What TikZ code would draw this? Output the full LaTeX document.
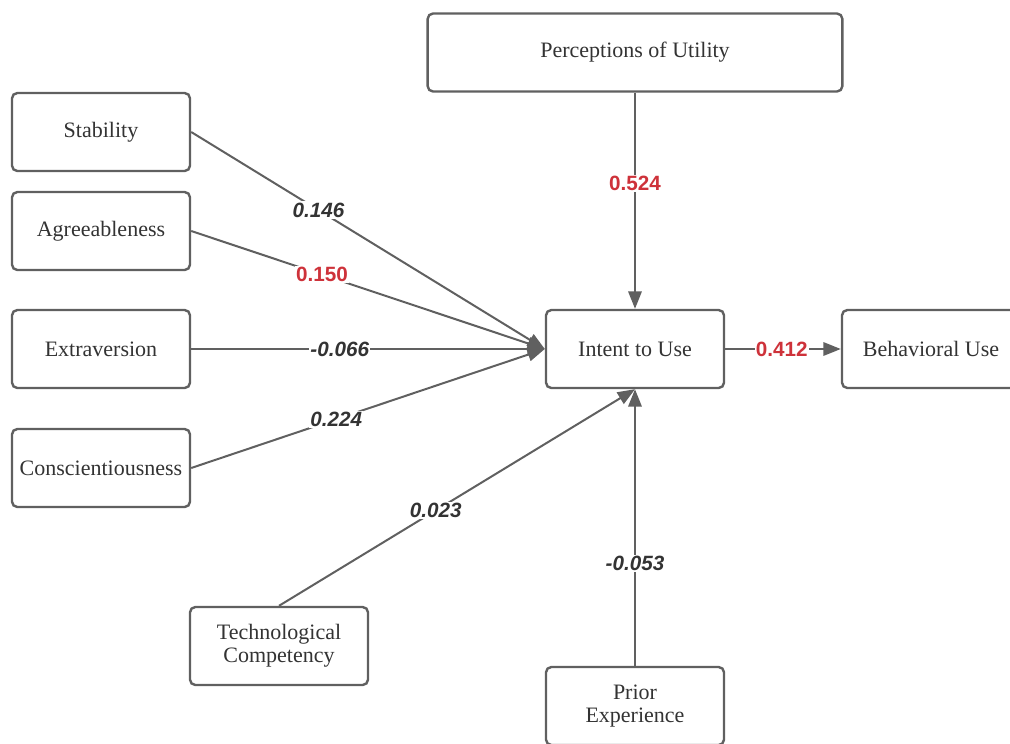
\documentclass[tikz,border=0pt]{standalone}
\usepackage{fontspec}
\setmainfont{Liberation Serif}
\newfontfamily\coeffont{Liberation Sans}
\usetikzlibrary{arrows.meta}
\definecolor{rahmen}{RGB}{96,96,96}
\definecolor{tinte}{RGB}{51,51,51}
\definecolor{signif}{RGB}{206,50,58}

\begin{document}
\begin{tikzpicture}[x=0.75pt, y=-0.75pt,
    construct/.style={draw=rahmen, line width=1.8pt, rounded corners=4pt, fill=white,
      minimum width=133.5pt, minimum height=58.5pt, align=center, text=tinte,
      font=\fontsize{16.5}{17.5}\selectfont},
    effect/.style={draw=rahmen, line width=1.5pt, -{Triangle[length=13pt,width=10pt]}},
    coef/.style={fill=white, inner sep=1pt, text=tinte,
      font=\coeffont\bfseries\itshape\fontsize{15.5}{15.5}\selectfont},
    sigcoef/.style={coef, text=signif, font=\coeffont\bfseries\fontsize{15.5}{15.5}\selectfont}]
        \useasboundingbox (0,0) rectangle (1010,743);
        % predictors on the left
        \node[construct] (stab) at (101,132) {Stability};
        \node[construct] (agree) at (101,231) {Agreeableness};
        \node[construct] (extra) at (101,349) {Extraversion};
        \node[construct] (consc) at (101,468) {Conscientiousness};
        \node[construct] (tech) at (279,646) {Technological\\Competency};
        % central part
        \node[construct, minimum width=311pt] (util) at (635,52.5) {Perceptions of Utility};
        \node[construct] (intent) at (635,349) {Intent to Use};
        \node[construct] (prior) at (635,706) {Prior\\Experience};
        \node[construct] (behav) at (931,349) {Behavioral Use};
        % paths with coefficients
        \draw[effect] (stab.east) -- node[coef, pos=0.36] {0.146} (intent.west);
        \draw[effect] (agree.east) -- node[sigcoef, pos=0.37] {0.150} (intent.west);
        \draw[effect] (extra.east) -- node[coef, pos=0.42] {-0.066} (intent.west);
        \draw[effect] (consc.east) -- node[coef, pos=0.41] {0.224} (intent.west);
        \draw[effect] (tech.north) -- node[coef, pos=0.44] {0.023} (intent.south);
        \draw[effect] (util.south) -- node[sigcoef, pos=0.42] {0.524} (intent.north);
        \draw[effect] (prior.north) -- node[coef, pos=0.37] {-0.053} (intent.south);
        \draw[effect] (intent.east) -- node[sigcoef, pos=0.49] {0.412} (behav.west);
\end{tikzpicture}
\end{document}
